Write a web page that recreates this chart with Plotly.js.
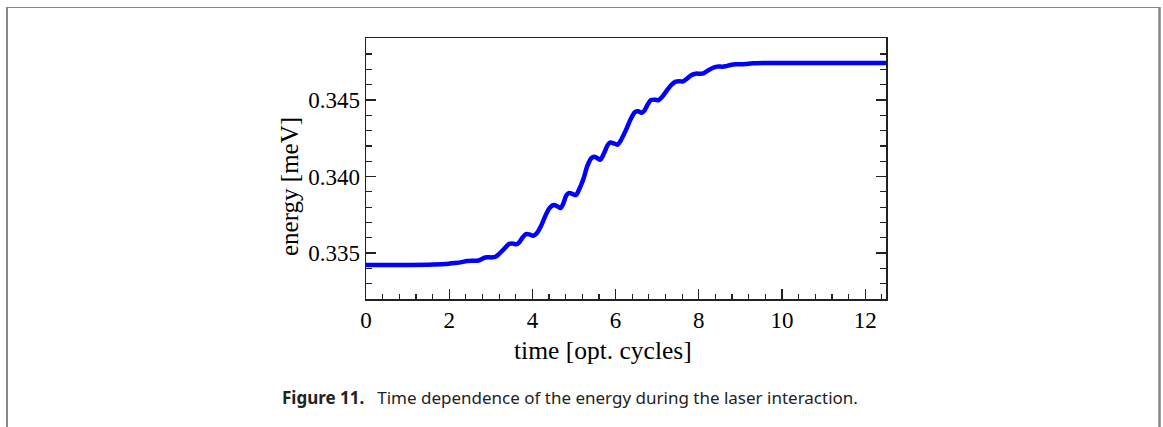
<!DOCTYPE html>
<html>
<head>
<meta charset="utf-8">
<script src="https://cdn.plot.ly/plotly-3.0.1.min.js"></script>
<style>
html,body{margin:0;padding:0;background:#fff;}
#chart{width:1163px;height:427px;}
</style>
</head>
<body>
<div id="chart"></div>
<script>
// time [optical cycles]
const timeCycles = [0, 0.675, 1.487, 1.894, 2.137, 2.300, 2.422, 2.544, 2.666, 2.747, 2.828, 2.910, 3.032, 3.113, 3.194, 3.316, 3.438, 3.519, 3.617, 3.682, 3.763, 3.844, 3.926, 4.023, 4.104, 4.210, 4.332, 4.429, 4.511, 4.616, 4.681, 4.738, 4.820, 4.885, 4.966, 5.047, 5.128, 5.226, 5.323, 5.413, 5.486, 5.567, 5.632, 5.714, 5.811, 5.876, 5.957, 6.039, 6.120, 6.242, 6.364, 6.461, 6.543, 6.624, 6.689, 6.770, 6.851, 6.949, 7.030, 7.111, 7.217, 7.339, 7.445, 7.542, 7.624, 7.705, 7.827, 7.924, 8.030, 8.111, 8.217, 8.331, 8.437, 8.558, 8.640, 8.761, 8.883, 9.005, 9.127, 9.290, 9.534, 12.5];
// energy [meV]
const energyMeV = [0.33422, 0.33422, 0.33424, 0.33428, 0.33435, 0.33441, 0.33448, 0.33450, 0.33450, 0.33456, 0.33467, 0.33472, 0.33472, 0.33476, 0.33493, 0.33526, 0.33559, 0.33563, 0.33557, 0.33570, 0.33602, 0.33624, 0.33622, 0.33613, 0.33629, 0.33679, 0.33755, 0.33799, 0.33814, 0.33803, 0.33794, 0.33820, 0.33879, 0.33892, 0.33886, 0.33879, 0.33918, 0.33984, 0.34071, 0.34119, 0.34130, 0.34119, 0.34110, 0.34147, 0.34206, 0.34223, 0.34217, 0.34208, 0.34234, 0.34300, 0.34376, 0.34420, 0.34426, 0.34417, 0.34430, 0.34470, 0.34500, 0.34502, 0.34498, 0.34518, 0.34557, 0.34598, 0.34620, 0.34622, 0.34622, 0.34637, 0.34664, 0.34672, 0.34672, 0.34674, 0.34692, 0.34709, 0.34718, 0.34718, 0.34720, 0.34729, 0.34733, 0.34733, 0.34735, 0.34740, 0.34742, 0.34742];

const xTickVals = [0, 2, 4, 6, 8, 10, 12];
const yTickVals = [0.335, 0.340, 0.345];
const yTickText = ['0.335', '0.340', '0.345'];

const xTitle = 'time [opt. cycles]';
const yTitle = 'energy [meV]';
const caption = '<b>Figure 11.</b>\u2002 Time dependence of the energy during the laser interaction.';

const serif = '"Liberation Serif", "DejaVu Serif", serif';
const sans = '"Noto Sans", "Open Sans", sans-serif';

// plot area in pixels: x 366..886, y 38..299
const L = 366, R = 886, T = 38, B = 299, W = 1163, H = 427;
const px = x => (x - L) / (R - L);
const py = y => (B - y) / (B - T);

const trace = {
  x: timeCycles, y: energyMeV, type: 'scatter', mode: 'lines',
  line: {color: '#0000ff', width: 4.5, shape: 'spline', smoothing: 0.8},
  hoverinfo: 'skip'
};

const layout = {
  width: W, height: H,
  margin: {l: L, r: W - R, t: T, b: H - B, pad: 0},
  paper_bgcolor: '#ffffff', plot_bgcolor: '#ffffff',
  showlegend: false,
  font: {family: serif, color: '#000', size: 23},
  xaxis: {
    range: [0, 12.5], tickmode: 'array', tickvals: xTickVals,
    ticks: 'inside', ticklen: 10, tickwidth: 1.2, tickcolor: '#222',
    showline: true, linecolor: '#222', linewidth: 1.5, mirror: true,
    showgrid: false, zeroline: false,
    tickfont: {family: serif, size: 23, color: '#000'},
    minor: {dtick: 0.4, tick0: 0, ticks: 'inside', ticklen: 5, tickwidth: 1.2, tickcolor: '#222', showgrid: false}
  },
  yaxis: {
    range: [0.332, 0.34905], tickmode: 'array', tickvals: yTickVals, ticktext: yTickText,
    ticks: 'inside', ticklen: 10, tickwidth: 1.2, tickcolor: '#222',
    showline: true, linecolor: '#222', linewidth: 1.5, mirror: 'ticks',
    showgrid: false, zeroline: false,
    tickfont: {family: serif, size: 23, color: '#000'},
    minor: {dtick: 0.001, tick0: 0.332, ticks: 'inside', ticklen: 6, tickwidth: 1.2, tickcolor: '#222', showgrid: false}
  },
  annotations: [
    {text: xTitle, xref: 'paper', yref: 'paper', x: px(603), y: py(350), xanchor: 'center', yanchor: 'middle',
     showarrow: false, font: {family: serif, size: 25.5, color: '#000'}},
    {text: yTitle, xref: 'paper', yref: 'paper', x: px(290), y: py(187), xanchor: 'center', yanchor: 'middle',
     textangle: -90, showarrow: false, font: {family: serif, size: 25, color: '#000'}},
    {text: caption, xref: 'paper', yref: 'paper', x: px(570), y: py(397), xanchor: 'center', yanchor: 'middle',
     showarrow: false, font: {family: sans, size: 17, color: '#222'}}
  ],
  shapes: [
    {type: 'line', xref: 'paper', yref: 'paper', x0: px(6), x1: px(1160), y0: py(7.5), y1: py(7.5), line: {color: '#888', width: 1.2}},
    {type: 'line', xref: 'paper', yref: 'paper', x0: px(7), x1: px(7), y0: py(7), y1: py(428), line: {color: '#888', width: 2}},
    {type: 'line', xref: 'paper', yref: 'paper', x0: px(1159.5), x1: px(1159.5), y0: py(7), y1: py(428), line: {color: '#888', width: 2.5}}
  ]
};

Plotly.newPlot('chart', [trace], layout, {staticPlot: true, displayModeBar: false});
</script>
</body>
</html>
